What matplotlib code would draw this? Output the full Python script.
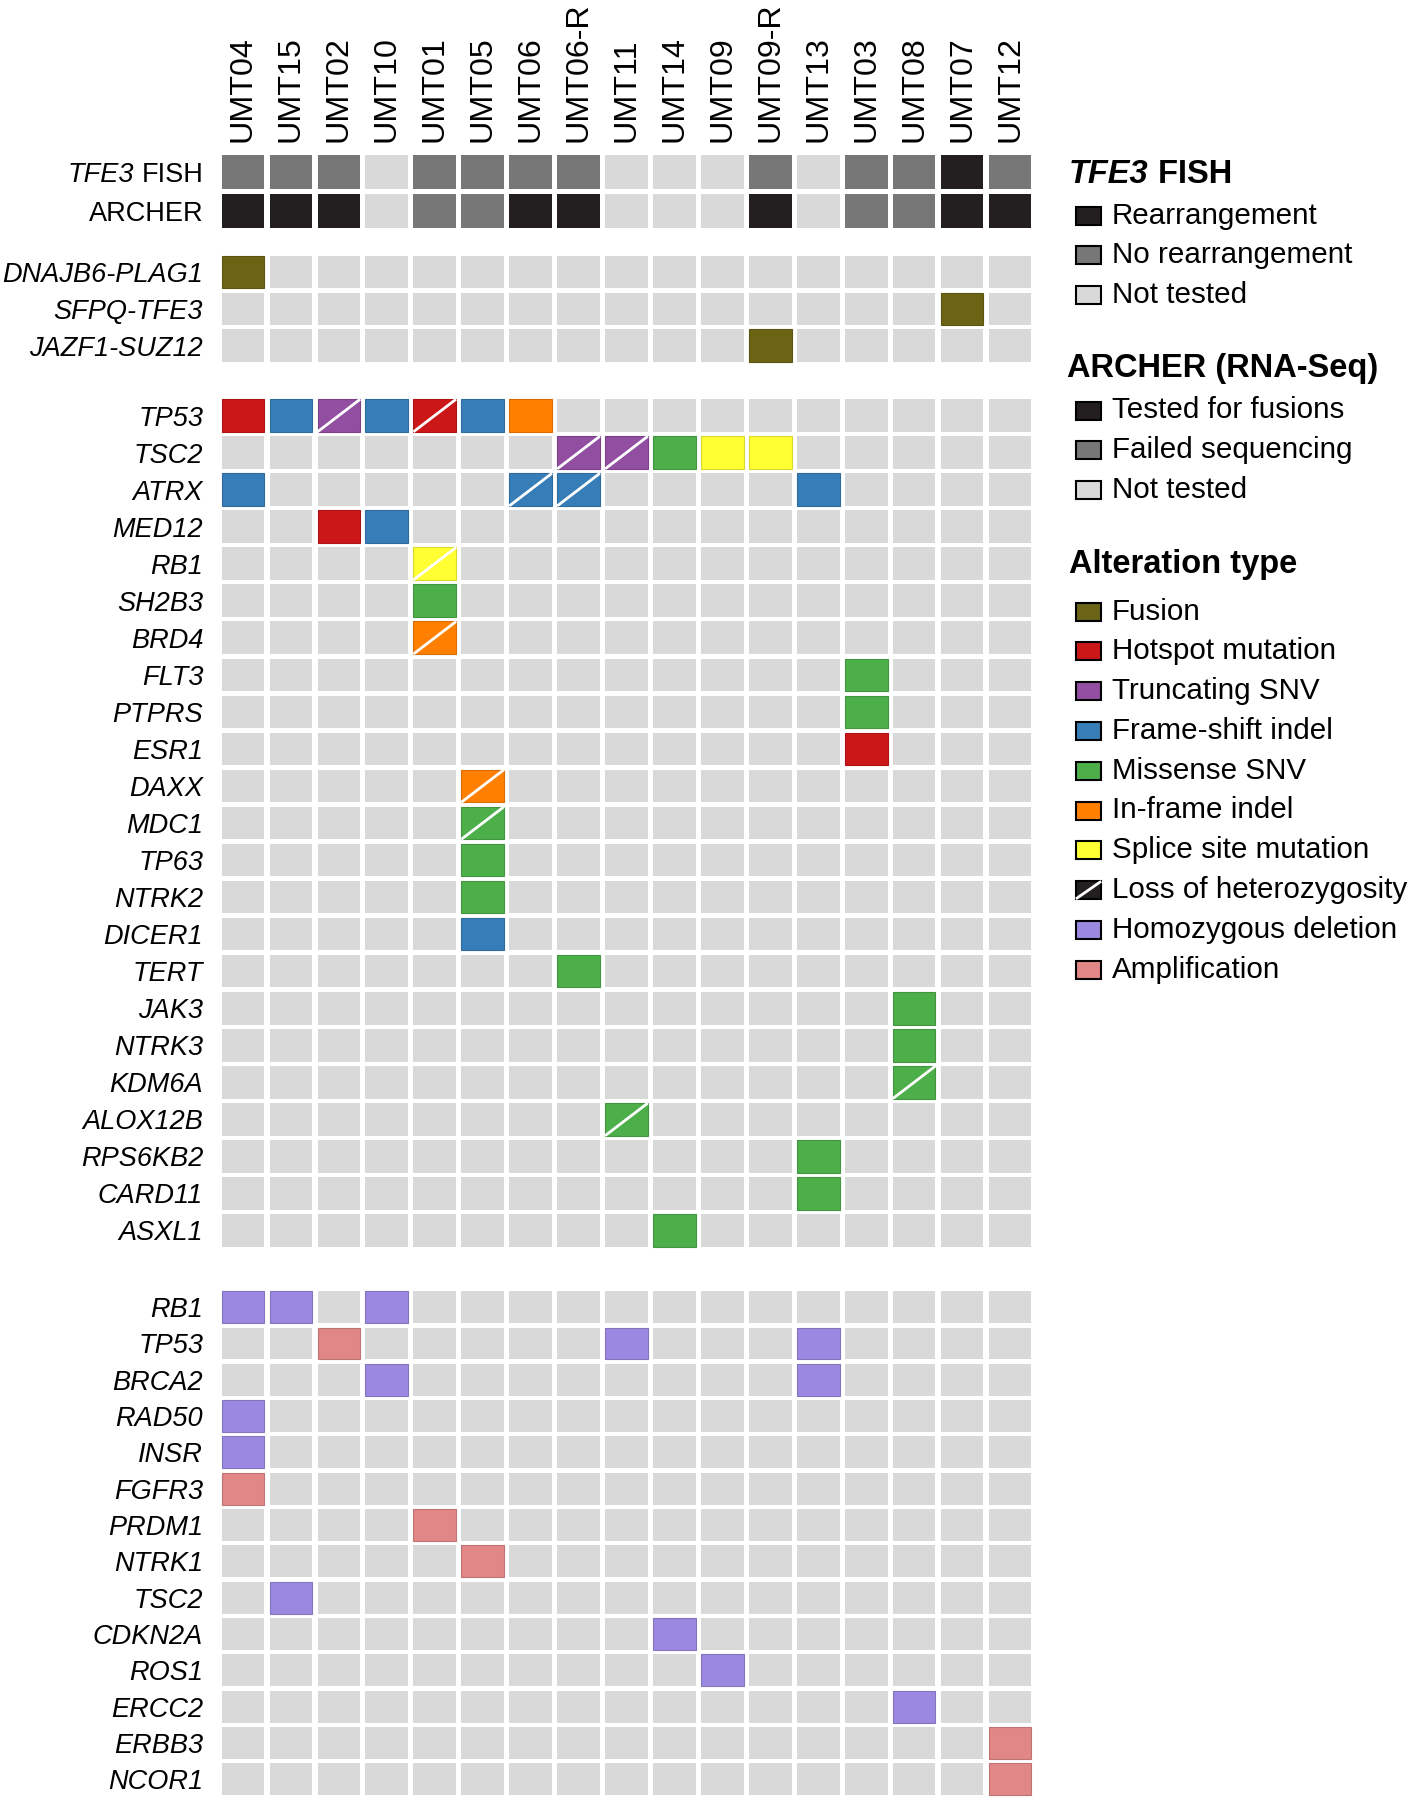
import matplotlib
matplotlib.use("Agg")
import matplotlib.pyplot as plt
from matplotlib.patches import Rectangle
import matplotlib.colors as mcolors

plt.rcParams['font.family'] = ['Liberation Sans', 'DejaVu Sans']

# ---- data ----------------------------------------------------------------
samples = ["UMT04", "UMT15", "UMT02", "UMT10", "UMT01", "UMT05", "UMT06", "UMT06-R",
           "UMT11", "UMT14", "UMT09", "UMT09-R", "UMT13", "UMT03", "UMT08", "UMT07", "UMT12"]

# R = rearrangement / tested, N = no rearrangement / failed, X = not tested
fish_status = ["N", "N", "N", "X", "N", "N", "N", "N", "X", "X", "X", "N", "X", "N", "N", "R", "N"]
archer_status = ["R", "R", "R", "X", "N", "N", "R", "R", "X", "X", "X", "R", "X", "N", "N", "R", "R"]

fusion_genes = ["DNAJB6-PLAG1", "SFPQ-TFE3", "JAZF1-SUZ12"]
fusion_calls = [("DNAJB6-PLAG1", "UMT04"), ("SFPQ-TFE3", "UMT07"), ("JAZF1-SUZ12", "UMT09-R")]

mut_genes = ["TP53", "TSC2", "ATRX", "MED12", "RB1", "SH2B3", "BRD4", "FLT3", "PTPRS", "ESR1",
             "DAXX", "MDC1", "TP63", "NTRK2", "DICER1", "TERT", "JAK3", "NTRK3", "KDM6A",
             "ALOX12B", "RPS6KB2", "CARD11", "ASXL1"]
# (gene, sample, alteration, loss of heterozygosity)
mut_calls = [
    ("TP53", "UMT04", "Hotspot mutation", False),
    ("TP53", "UMT15", "Frame-shift indel", False),
    ("TP53", "UMT02", "Truncating SNV", True),
    ("TP53", "UMT10", "Frame-shift indel", False),
    ("TP53", "UMT01", "Hotspot mutation", True),
    ("TP53", "UMT05", "Frame-shift indel", False),
    ("TP53", "UMT06", "In-frame indel", False),
    ("TSC2", "UMT06-R", "Truncating SNV", True),
    ("TSC2", "UMT11", "Truncating SNV", True),
    ("TSC2", "UMT14", "Missense SNV", False),
    ("TSC2", "UMT09", "Splice site mutation", False),
    ("TSC2", "UMT09-R", "Splice site mutation", False),
    ("ATRX", "UMT04", "Frame-shift indel", False),
    ("ATRX", "UMT06", "Frame-shift indel", True),
    ("ATRX", "UMT06-R", "Frame-shift indel", True),
    ("ATRX", "UMT13", "Frame-shift indel", False),
    ("MED12", "UMT02", "Hotspot mutation", False),
    ("MED12", "UMT10", "Frame-shift indel", False),
    ("RB1", "UMT01", "Splice site mutation", True),
    ("SH2B3", "UMT01", "Missense SNV", False),
    ("BRD4", "UMT01", "In-frame indel", True),
    ("FLT3", "UMT03", "Missense SNV", False),
    ("PTPRS", "UMT03", "Missense SNV", False),
    ("ESR1", "UMT03", "Hotspot mutation", False),
    ("DAXX", "UMT05", "In-frame indel", True),
    ("MDC1", "UMT05", "Missense SNV", True),
    ("TP63", "UMT05", "Missense SNV", False),
    ("NTRK2", "UMT05", "Missense SNV", False),
    ("DICER1", "UMT05", "Frame-shift indel", False),
    ("TERT", "UMT06-R", "Missense SNV", False),
    ("JAK3", "UMT08", "Missense SNV", False),
    ("NTRK3", "UMT08", "Missense SNV", False),
    ("KDM6A", "UMT08", "Missense SNV", True),
    ("ALOX12B", "UMT11", "Missense SNV", True),
    ("RPS6KB2", "UMT13", "Missense SNV", False),
    ("CARD11", "UMT13", "Missense SNV", False),
    ("ASXL1", "UMT14", "Missense SNV", False),
]

cn_genes = ["RB1", "TP53", "BRCA2", "RAD50", "INSR", "FGFR3", "PRDM1", "NTRK1", "TSC2",
            "CDKN2A", "ROS1", "ERCC2", "ERBB3", "NCOR1"]
cn_calls = [
    ("RB1", "UMT04", "Homozygous deletion"), ("RB1", "UMT15", "Homozygous deletion"),
    ("RB1", "UMT10", "Homozygous deletion"),
    ("TP53", "UMT02", "Amplification"), ("TP53", "UMT11", "Homozygous deletion"),
    ("TP53", "UMT13", "Homozygous deletion"),
    ("BRCA2", "UMT10", "Homozygous deletion"), ("BRCA2", "UMT13", "Homozygous deletion"),
    ("RAD50", "UMT04", "Homozygous deletion"),
    ("INSR", "UMT04", "Homozygous deletion"),
    ("FGFR3", "UMT04", "Amplification"),
    ("PRDM1", "UMT01", "Amplification"),
    ("NTRK1", "UMT05", "Amplification"),
    ("TSC2", "UMT15", "Homozygous deletion"),
    ("CDKN2A", "UMT14", "Homozygous deletion"),
    ("ROS1", "UMT09", "Homozygous deletion"),
    ("ERCC2", "UMT08", "Homozygous deletion"),
    ("ERBB3", "UMT12", "Amplification"),
    ("NCOR1", "UMT12", "Amplification"),
]

fish_labels = {"R": "Rearrangement", "N": "No rearrangement", "X": "Not tested"}
archer_labels = {"R": "Tested for fusions", "N": "Failed sequencing", "X": "Not tested"}
status_colors = {"R": "#231f20", "N": "#777777", "X": "#d9d9d9"}

alt_types = ["Fusion", "Hotspot mutation", "Truncating SNV", "Frame-shift indel", "Missense SNV",
             "In-frame indel", "Splice site mutation", "Loss of heterozygosity",
             "Homozygous deletion", "Amplification"]
alt_colors = {
    "Fusion": "#6b6414",
    "Hotspot mutation": "#cc1719",
    "Truncating SNV": "#924ea0",
    "Frame-shift indel": "#377eb8",
    "Missense SNV": "#4daf4a",
    "In-frame indel": "#ff7f00",
    "Splice site mutation": "#ffff33",
    "Loss of heterozygosity": "#231f20",
    "Homozygous deletion": "#9b88e0",
    "Amplification": "#e28787",
}
empty = "#d9d9d9"

# ---- layout ----------------------------------------------------------------
W, H = 1413, 1800
fig = plt.figure(figsize=(W / 100, H / 100), dpi=100)

grid_left, grid_right = 219, 1034
cw = 0.89
lab_fs = 19.5
lab_off = 0.33   # label gap from grid, in column units


def block_axes(top, bottom, nrows):
    # one axes per block of rows, positioned in pixels from the top of the figure
    a = fig.add_axes([grid_left / W, 1 - bottom / H, (grid_right - grid_left) / W,
                      (bottom - top) / H])
    a.set_xlim(-0.5, len(samples) - 0.5)
    a.set_ylim(nrows - 0.5, -0.5)
    a.axis("off")
    return a


def darker(c, f=0.85):
    r, g, b = mcolors.to_rgb(c)
    return (r * f, g * f, b * f)


def cell(a, x, y, color, ch, loh=False, edge=False):
    a.add_patch(Rectangle((x - cw / 2, y - ch / 2), cw, ch, facecolor=color,
                          edgecolor=darker(color) if edge else "none", lw=0.8))
    if loh:
        a.plot([x - cw / 2, x + cw / 2], [y + ch / 2, y - ch / 2], color="white", lw=2,
               solid_capstyle="butt")


col = {s: i for i, s in enumerate(samples)}

# header rows
axh = block_axes(152.5, 230.5, 2)
for j, s in enumerate(samples):
    cell(axh, j, 0, status_colors[fish_status[j]], 0.85)
    cell(axh, j, 1, status_colors[archer_status[j]], 0.85)
    axh.text(j, -0.5 - 0.27, s, rotation=90, ha="center", va="bottom", fontsize=23.2)

t_fish = axh.text(-0.5 - lab_off, 0, "FISH", ha="right", va="center_baseline", fontsize=lab_fs)
axh.annotate("TFE3", xy=(0, 0), xycoords=t_fish, xytext=(-5, 0), textcoords="offset points",
             ha="right", va="bottom", fontsize=lab_fs, style="italic")
axh.text(-0.5 - lab_off, 1, "ARCHER", ha="right", va="center_baseline", fontsize=lab_fs)


def block(genes, calls, top, bottom):
    a = block_axes(top, bottom, len(genes))
    for i, g in enumerate(genes):
        for j in range(len(samples)):
            cell(a, j, i, empty, 0.88)
        a.text(-0.5 - lab_off, i, g, ha="right", va="center_baseline", fontsize=lab_fs,
               style="italic")
    for c in calls:
        i = genes.index(c[0])
        cell(a, col[c[1]], i, alt_colors[c[2]], 0.88, loh=(len(c) > 3 and c[3]), edge=True)


block(fusion_genes, [(g, s, "Fusion") for g, s in fusion_calls], 253.6, 364)
block(mut_genes, mut_calls, 397, 1249)
block(cn_genes, cn_calls, 1289, 1797.5)

# ---- legend ----------------------------------------------------------------
lg = fig.add_axes([0, 0, 1, 1])
lg.set_xlim(0, W)
lg.set_ylim(H, 0)
lg.axis("off")

title_fs = 23.5
item_fs = 21.3
sw_x, sw_w, sw_h, txt_x = 1076, 25, 18, 1112
step = 39.8


def swatch(y, color, label, loh=False):
    lg.add_patch(Rectangle((sw_x, y - sw_h / 2), sw_w, sw_h, facecolor=color,
                           edgecolor="black", lw=1.5))
    if loh:
        lg.plot([sw_x + 1, sw_x + sw_w - 1], [y + sw_h / 2 - 1, y - sw_h / 2 + 1],
                color="white", lw=2)
    lg.text(txt_x, y, label, ha="left", va="center", fontsize=item_fs)


t1 = lg.text(1069, 174.5, "TFE3", ha="left", va="center", fontsize=title_fs,
             fontweight="bold", style="italic")
lg.annotate(" FISH", xy=(1, 0.5), xycoords=t1, ha="left", va="center",
            fontsize=title_fs, fontweight="bold")
for k, code in enumerate(["R", "N", "X"]):
    swatch(215.5 + k * step, status_colors[code], fish_labels[code])

lg.text(1067, 368, "ARCHER (RNA-Seq)", ha="left", va="center", fontsize=title_fs,
        fontweight="bold")
for k, code in enumerate(["R", "N", "X"]):
    swatch(410.5 + k * step, status_colors[code], archer_labels[code])

lg.text(1069, 564, "Alteration type", ha="left", va="center", fontsize=title_fs,
        fontweight="bold")
for k, a in enumerate(alt_types):
    swatch(611.5 + k * step, alt_colors[a], a, loh=(a == "Loss of heterozygosity"))

fig.savefig("out.png", dpi=100, facecolor="white")
